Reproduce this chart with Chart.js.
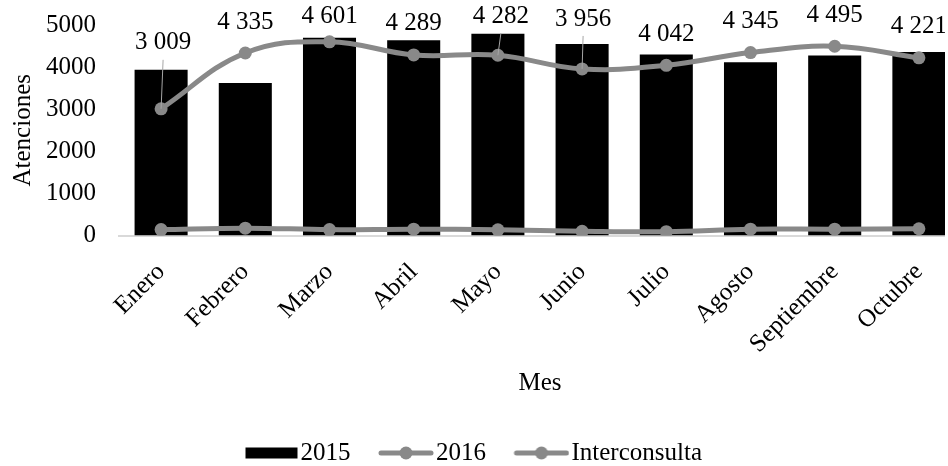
<!DOCTYPE html>
<html>
<head>
<meta charset="utf-8">
<script src="https://cdn.jsdelivr.net/npm/chart.js@4/dist/chart.umd.min.js"></script>
<style>
  html, body { margin: 0; padding: 0; background: #ffffff; overflow: hidden; }
  #marco { position: relative; width: 945px; height: 466px; overflow: hidden; background: #ffffff; }
  #grafico { display: block; }
</style>
</head>
<body>
<div id="marco"><canvas id="grafico" width="962" height="466"></canvas></div>
<script>
// Atenciones mensuales por año
const meses = ['Enero', 'Febrero', 'Marzo', 'Abril', 'Mayo', 'Junio', 'Julio', 'Agosto', 'Septiembre', 'Octubre'];
const atenciones2015 = [3940, 3620, 4695, 4640, 4790, 4550, 4300, 4115, 4275, 4360];
const atenciones2016 = [3009, 4335, 4601, 4289, 4282, 3956, 4042, 4345, 4495, 4221];
const interconsulta = [140, 175, 140, 150, 135, 100, 90, 150, 150, 160];
const marcasEjeY = [0, 1000, 2000, 3000, 4000, 5000];

const GRIS = '#898989';
const FUENTE = "'Liberation Serif', 'Times New Roman', serif";

Chart.defaults.font.family = FUENTE;
Chart.defaults.font.size = 25;
Chart.defaults.color = '#000000';

// Miles separados con espacio: 4335 -> "4 335"
const formatoMiles = v => String(v).replace(/\B(?=(\d{3})+(?!\d))/g, ' ');

// Muestras de la leyenda: barra negra o línea con marcador
function muestraLeyenda(tipo) {
  const c = document.createElement('canvas');
  c.width = 84; c.height = 16;
  const g = c.getContext('2d');
  if (tipo === 'barra') {
    g.fillStyle = '#000000';
    g.fillRect(83 - 52, 2.5, 52, 11);
  } else {
    const x0 = 83 - 54;
    g.strokeStyle = GRIS;
    g.lineWidth = 5;
    g.lineCap = 'round';
    g.beginPath(); g.moveTo(x0 + 2, 8); g.lineTo(81, 8); g.stroke();
    g.fillStyle = GRIS;
    g.beginPath(); g.arc(x0 + 27, 8, 6.5, 0, Math.PI * 2); g.fill();
  }
  return c;
}

// Etiquetas de valor de 2016 sobre cada punto (algunas con línea guía)
const desplazamientoEtiqueta = -31;
const ajustesEtiqueta = {
  0: { dy: -66, dx: 2, guia: true },
  2: { dy: -25 },
  4: { dy: -39, dx: 3, guia: true },
  5: { dy: -50, dx: 1, guia: true }
};

const etiquetasValor = {
  id: 'etiquetasValor',
  afterDatasetsDraw(chart) {
    const meta = chart.getDatasetMeta(1);
    const ctx = chart.ctx;
    ctx.save();
    ctx.font = '25px ' + FUENTE;
    ctx.textAlign = 'center';
    ctx.textBaseline = 'middle';
    meta.data.forEach((pt, i) => {
      const aj = ajustesEtiqueta[i] || {};
      const lx = pt.x + (aj.dx || 0);
      const ly = pt.y + (aj.dy !== undefined ? aj.dy : desplazamientoEtiqueta);
      if (aj.guia) {
        ctx.strokeStyle = '#a6a6a6';
        ctx.lineWidth = 1;
        ctx.beginPath();
        ctx.moveTo(lx, ly + 17);
        ctx.lineTo(pt.x, pt.y);
        ctx.stroke();
      }
      ctx.fillStyle = '#000000';
      ctx.fillText(formatoMiles(chart.data.datasets[1].data[i]), lx, ly);
    });
    ctx.restore();
  }
};

// Leyenda centrada bajo el área visible
const posicionLeyenda = {
  id: 'posicionLeyenda',
  afterLayout(chart) {
    const l = chart.legend;
    l.left -= 17; l.right -= 17;
    l.top += 9.5; l.bottom += 9.5;
  }
};

new Chart(document.getElementById('grafico'), {
  data: {
    labels: meses,
    datasets: [
      {
        type: 'bar', label: '2015', data: atenciones2015,
        backgroundColor: '#000000', borderWidth: 0,
        barPercentage: 0.63, categoryPercentage: 1, order: 3
      },
      {
        type: 'line', label: '2016', data: atenciones2016,
        borderColor: GRIS, backgroundColor: GRIS, borderWidth: 5,
        pointRadius: 6.5, pointBackgroundColor: GRIS, pointBorderWidth: 0,
        tension: 0.4, order: 1
      },
      {
        type: 'line', label: 'Interconsulta', data: interconsulta,
        borderColor: GRIS, backgroundColor: GRIS, borderWidth: 5,
        pointRadius: 6.5, pointBackgroundColor: GRIS, pointBorderWidth: 0,
        tension: 0.4, order: 2
      }
    ]
  },
  options: {
    responsive: false,
    animation: false,
    devicePixelRatio: 1,
    layout: { autoPadding: false, padding: { top: 25, right: 1, left: 0, bottom: 0 } },
    plugins: {
      tooltip: { enabled: false },
      legend: {
        position: 'bottom',
        labels: {
          usePointStyle: true,
          pointStyleWidth: 63,
          padding: 10,
          font: { size: 25 },
          color: '#000000',
          generateLabels() {
            return [
              { text: '2015', pointStyle: muestraLeyenda('barra'), fillStyle: '#000', strokeStyle: '#000', lineWidth: 0, hidden: false, datasetIndex: 0 },
              { text: '2016', pointStyle: muestraLeyenda('linea'), fillStyle: GRIS, strokeStyle: GRIS, lineWidth: 0, hidden: false, datasetIndex: 1 },
              { text: 'Interconsulta', pointStyle: muestraLeyenda('linea'), fillStyle: GRIS, strokeStyle: GRIS, lineWidth: 0, hidden: false, datasetIndex: 2 }
            ];
          }
        }
      }
    },
    scales: {
      x: {
        grid: { display: false, drawTicks: false },
        border: { display: true, color: '#d9d9d9', width: 2 },
        ticks: { autoSkip: false, minRotation: 45, maxRotation: 45, padding: 22, font: { size: 25 }, color: '#000000' },
        title: { display: true, text: 'Mes', font: { size: 25 }, color: '#000000', padding: { top: 0, bottom: 23 } },
        afterFit(s) { s.height = 185.5; s.paddingLeft = 0; s.paddingRight = 0; }
      },
      y: {
        min: 0, max: 5000,
        afterBuildTicks(s) { s.ticks = marcasEjeY.map(v => ({ value: v })); },
        grid: { display: false, drawTicks: false },
        border: { display: false },
        ticks: { padding: 23, font: { size: 25 }, color: '#000000', callback: v => String(v) },
        title: { display: true, text: 'Atenciones', font: { size: 25 }, color: '#000000', padding: { top: 8, bottom: 0 } },
        afterFit(s) { s.width = 119; s.paddingTop = 0; s.paddingBottom = 0; }
      }
    }
  },
  plugins: [etiquetasValor, posicionLeyenda]
});
</script>
</body>
</html>
